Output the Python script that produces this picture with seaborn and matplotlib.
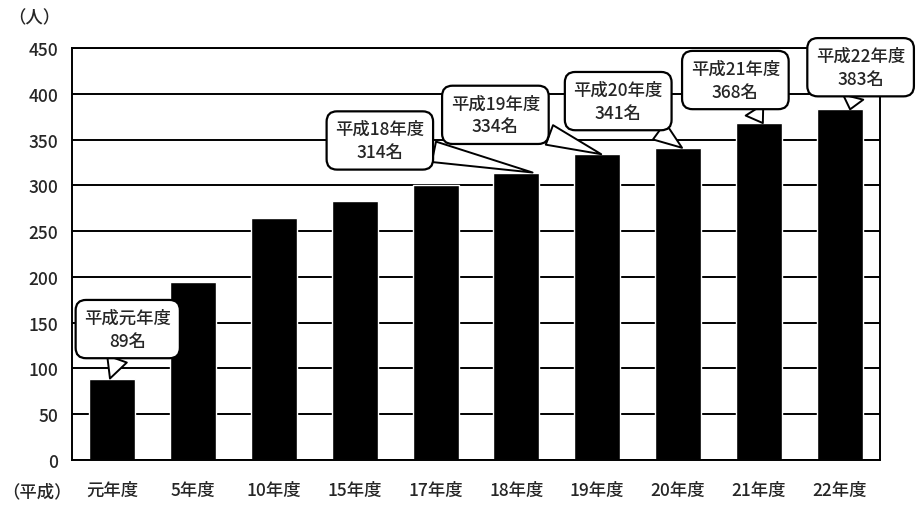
import numpy as np
import pandas as pd
import matplotlib as mpl
mpl.use('Agg')
import matplotlib.pyplot as plt
import seaborn as sns

# DATA
years = ['元年度', '5年度', '10年度', '15年度', '17年度',
         '18年度', '19年度', '20年度', '21年度', '22年度']
counts = [89, 194, 264, 283, 300, 314, 334, 341, 368, 383]
callout_labels = ['平成元年度\n89名', None, None, None, None,
                  '平成18年度\n314名', '平成19年度\n334名', '平成20年度\n341名',
                  '平成21年度\n368名', '平成22年度\n383名']

# LAYOUT: (text x, text y, arrow tip x shift) per callout, in data units
callout_pos = {0: (0.19, 143, -0.03),
               5: (3.31, 349, 0.2),
               6: (4.74, 377, 0.05),
               7: (6.26, 392, 0.05),
               8: (7.71, 415, 0.05),
               9: (9.26, 429, 0.13)}

sns.set_style('white')
plt.rcParams['font.family'] = ['Noto Sans CJK JP', 'DejaVu Sans']
plt.rcParams['font.weight'] = 'medium'

df = pd.DataFrame({'year': years, 'count': counts})

fig = plt.figure(figsize=(9.17, 5.10), dpi=100)
ax = fig.add_axes([72 / 917, 1 - 461 / 510, 808 / 917, 412 / 510])

sns.barplot(data=df, x='year', y='count', color='black', width=0.57,
            saturation=1, ax=ax, zorder=2)

ax.set_ylim(0, 450)
ax.set_xlim(-0.5, len(years) - 0.5)
ax.set_yticks(np.arange(0, 451, 50))
ax.yaxis.grid(True, color='black', lw=1.4, zorder=0)
ax.set_axisbelow(True)
for s in ax.spines.values():
    s.set_color('black')
    s.set_linewidth(1.4)
    s.set_visible(True)
ax.tick_params(axis='y', length=0, pad=10, labelsize=12.5)
ax.tick_params(axis='x', length=0, pad=15, labelsize=12.5)
ax.set_xlabel('')
ax.set_ylabel('')

fig.text(8 / 917, 1 - 18 / 510, '（人）', fontsize=12.5, va='center', ha='left')
fig.text(2 / 917, 1 - 492 / 510, '（平成）', fontsize=12.5, va='center', ha='left')

# callouts
for i, lab in enumerate(callout_labels):
    if lab is None:
        continue
    tx, ty, dx = callout_pos[i]
    ax.annotate(lab, xy=(i + dx, counts[i]), xytext=(tx, ty),
                ha='center', va='center', fontsize=12.5, linespacing=1.35,
                annotation_clip=False, zorder=5,
                bbox=dict(boxstyle='round,pad=0.5,rounding_size=0.6',
                          fc='white', ec='black', lw=1.6),
                arrowprops=dict(arrowstyle='wedge,tail_width=1.2,shrink_factor=0.5',
                                fc='white', ec='black', lw=1.4, shrinkA=0, shrinkB=0))

fig.savefig('out.png', dpi=100)
